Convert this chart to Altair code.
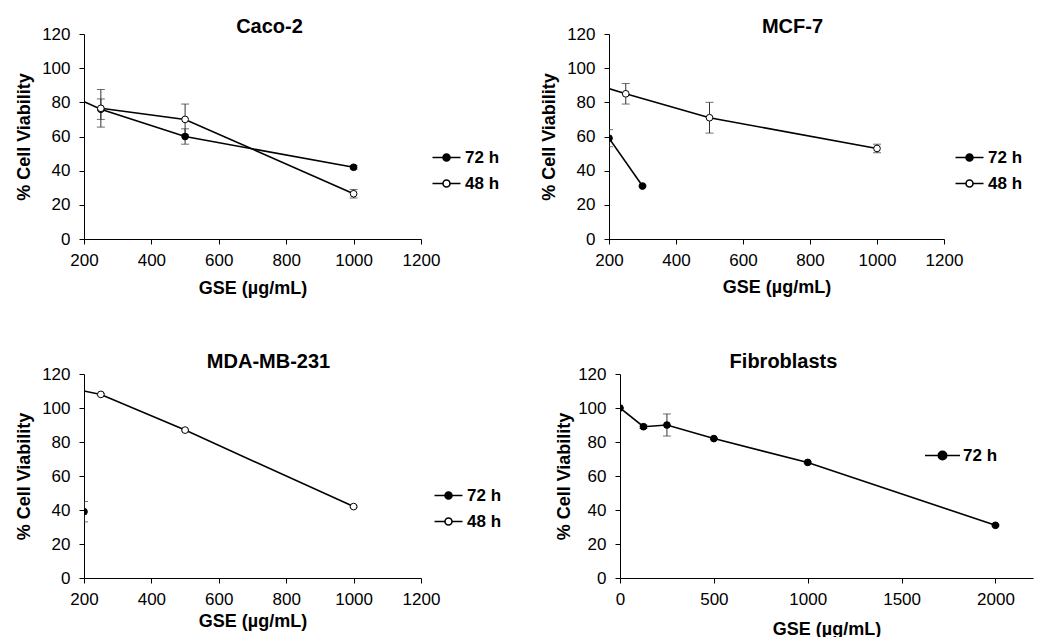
import altair as alt
import pandas as pd

FONT = "Liberation Sans"

# ---------------- data ----------------
# Caco-2
CACO_72_X = [125, 250, 500, 1000]
CACO_72_Y = [87, 76, 60, 42]
CACO_72_ERR = [0, 6, 4.5, 1]
CACO_48_X = [250, 500, 1000]
CACO_48_Y = [76.5, 70, 26.5]
CACO_48_ERR = [11, 9, 2.5]

# MCF-7
MCF_72_X = [200, 300]
MCF_72_Y = [59, 31]
MCF_72_ERR = [5, 0.5]
MCF_48_X = [125, 250, 500, 1000]
MCF_48_Y = [92.5, 85, 71, 53]
MCF_48_ERR = [0, 6, 9, 2.5]

# MDA-MB-231
MDA_72_X = [200]
MDA_72_Y = [39]
MDA_72_ERR = [6]
MDA_48_X = [125, 250, 500, 1000]
MDA_48_Y = [113, 108, 87, 42]
MDA_48_ERR = [0, 0.5, 0.5, 0.5]

# Fibroblasts
FIB_72_X = [0, 125, 250, 500, 1000, 2000]
FIB_72_Y = [100, 89, 90, 82, 68, 31]
FIB_72_ERR = [0, 1, 6.5, 0.5, 0.5, 0.5]

SERIES = ["72 h", "48 h"]
Y_TICKS = [0, 20, 40, 60, 80, 100, 120]
X_TICKS_A = [200, 400, 600, 800, 1000, 1200]
X_TICKS_B = [0, 500, 1000, 1500, 2000]


def frame(series_list):
    rows = []
    for label, xs, ys, es in series_list:
        for x, y, e in zip(xs, ys, es):
            rows.append(dict(series=label, x=x, y=y, lo=y - e, hi=y + e, err=e))
    return pd.DataFrame(rows)


SYM_SMALL = "M-2,0H-0.5M0.5,0H2M0.5,0A0.5,0.5,0,1,1,-0.5,0A0.5,0.5,0,1,1,0.5,0"
SYM_LONG = "M-2.5,0H2.5M0.6,0A0.6,0.6,0,1,1,-0.6,0A0.6,0.6,0,1,1,0.6,0"


def panel(title, df, xdom, xticks, w, h, title_dx, title_off, leg_x, leg_y,
          domain, symbol, label_offset, y_title_pad, x_title_pad):
    xaxis = alt.Axis(values=xticks, title="GSE (µg/mL)", grid=False, format="d",
                     labelFont=FONT, labelFontSize=17, labelColor="black",
                     titleFont=FONT, titleFontSize=18, titleFontWeight="bold",
                     titleColor="black", domainColor="black", tickColor="black",
                     tickSize=5, labelPadding=8, titlePadding=x_title_pad,
                     labelFlush=False)
    yaxis = alt.Axis(values=Y_TICKS, title="% Cell Viability", grid=False,
                     labelFont=FONT, labelFontSize=17, labelColor="black",
                     titleFont=FONT, titleFontSize=18, titleFontWeight="bold",
                     titleColor="black", domainColor="black", tickColor="black",
                     tickSize=5, labelPadding=9, titlePadding=y_title_pad,
                     labelFlush=False)
    xs = alt.Scale(domain=xdom, nice=False, zero=False)
    ys = alt.Scale(domain=[0, 120], nice=False)
    base = alt.Chart(df)

    err = base.transform_filter("datum.err > 0").mark_errorbar(
        ticks={"size": 8}, color="#333333", thickness=1, clip=True
    ).encode(
        x=alt.X("x:Q", scale=xs, axis=xaxis),
        y=alt.Y("lo:Q", scale=ys, axis=yaxis),
        y2="hi:Q",
    )
    line = base.mark_line(color="black", strokeWidth=1.6, clip=True).encode(
        x=alt.X("x:Q", scale=xs, axis=xaxis),
        y=alt.Y("y:Q", scale=ys, axis=yaxis),
        detail="series:N",
        order="x:Q",
    )
    pts = base.mark_point(filled=True, shape="circle", size=45, stroke="black",
                          strokeWidth=1, opacity=1, clip=True).encode(
        x=alt.X("x:Q", scale=xs, axis=xaxis),
        y=alt.Y("y:Q", scale=ys, axis=yaxis),
        fill=alt.Fill("series:N",
                      scale=alt.Scale(domain=domain,
                                      range=["black", "white"][:len(domain)]),
                      legend=alt.Legend(title=None, orient="none",
                                        legendX=leg_x, legendY=leg_y,
                                        symbolType=symbol, symbolSize=196,
                                        symbolStrokeColor="black",
                                        symbolStrokeWidth=1.6,
                                        labelFont=FONT, labelFontSize=17,
                                        labelFontWeight="bold",
                                        labelColor="black",
                                        labelOffset=label_offset,
                                        rowPadding=8)),
    )
    return alt.layer(err, line, pts).properties(
        width=w, height=h,
        title=alt.TitleParams(title, font=FONT, fontSize=20, fontWeight="bold",
                              color="black", anchor="middle", dx=title_dx,
                              frame="group", offset=title_off),
    )


caco = frame([("72 h", CACO_72_X, CACO_72_Y, CACO_72_ERR),
              ("48 h", CACO_48_X, CACO_48_Y, CACO_48_ERR)])
mcf = frame([("72 h", MCF_72_X, MCF_72_Y, MCF_72_ERR),
             ("48 h", MCF_48_X, MCF_48_Y, MCF_48_ERR)])
mda = frame([("72 h", MDA_72_X, MDA_72_Y, MDA_72_ERR),
             ("48 h", MDA_48_X, MDA_48_Y, MDA_48_ERR)])
fib = frame([("72 h", FIB_72_X, FIB_72_Y, FIB_72_ERR)])

p1 = panel("Caco-2", caco, [200, 1200], X_TICKS_A, 337, 205, 17, -12, 354, 115,
           SERIES, SYM_SMALL, 10, 8, 11)
p2 = panel("MCF-7", mcf, [200, 1200], X_TICKS_A, 335, 205, 16, -12, 352, 115,
           SERIES, SYM_SMALL, 10, 8, 10)
p3 = panel("MDA-MB-231", mda, [200, 1200], X_TICKS_A, 337, 204, 16, -7, 356, 113,
           SERIES, SYM_SMALL, 10, 8, 5)
p4 = panel("Fibroblasts", fib, [0, 2200], X_TICKS_B, 413, 204, -43, -7, 314, 73,
           ["72 h"], SYM_LONG, 12, 4, 13)

row1 = alt.hconcat(p1, p2, spacing=188, bounds="flush").resolve_scale(
    x="independent", y="independent", fill="independent").resolve_legend(
    fill="independent")
row2 = alt.hconcat(p3, p4, spacing=199, bounds="flush").resolve_scale(
    x="independent", y="independent", fill="independent").resolve_legend(
    fill="independent")

chart = alt.vconcat(row1, row2, spacing=340, bounds="flush").resolve_scale(
    x="independent", y="independent", fill="independent").resolve_legend(
    fill="independent").properties(
    padding={"left": 7, "top": 9, "right": 5, "bottom": 5},
    background="white",
).configure_view(stroke=None).configure_concat(spacing=0)

chart.save("out.html", embed_options={"renderer": "svg", "actions": False})
